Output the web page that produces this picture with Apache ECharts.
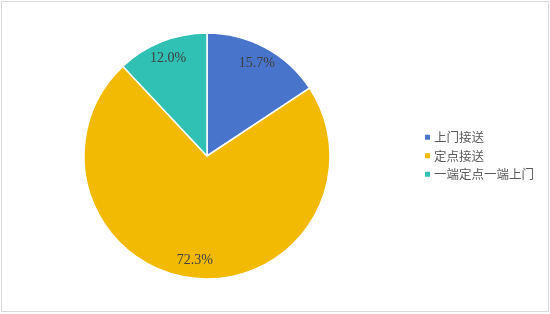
<!DOCTYPE html>
<html><head><meta charset="utf-8">
<script src="https://cdn.jsdelivr.net/npm/echarts@6/dist/echarts.min.js"></script>
<style>html,body{margin:0;padding:0;background:#fff}#c{width:550px;height:314px}</style>
</head><body><div id="c"></div>
<script>
const categories = ['上门接送', '定点接送', '一端定点一端上门'];
const values = [15.7, 72.3, 12.0];
const colors = ['#4874CB', '#F2BA02', '#30C0B4'];

const data = categories.map((n, i) => ({ name: n, value: values[i], itemStyle: { color: colors[i] } }));
const chart = echarts.init(document.getElementById('c'));
chart.setOption({
  animation: false,
  graphic: [{ type: 'rect', shape: { x: 1.5, y: 1.5, width: 547, height: 310 }, style: { fill: 'none', stroke: '#d9d9d9', lineWidth: 1 }, silent: true }],
  legend: {
    orient: 'vertical', left: 418, top: 126,
    itemWidth: 7, itemHeight: 7, itemGap: 6, icon: 'rect',
    data: categories.map((n, i) => ({ name: n, itemStyle: { color: colors[i] } })),
    textStyle: { fontFamily: 'Noto Sans CJK SC', fontSize: 12.5, color: '#595959', padding: [0, 0, 0, -2] }
  },
  series: [
    {
      type: 'pie', center: [207, 156], radius: [0, 123], startAngle: 90, clockwise: true,
      itemStyle: { borderColor: '#fff', borderWidth: 1.5 },
      label: { show: false }, labelLine: { show: false }, emphasis: { disabled: true },
      data: data
    },
    {
      type: 'pie', center: [207, 156], radius: [82, 123], startAngle: 90, clockwise: true,
      silent: true, z: 3,
      itemStyle: { color: 'transparent', borderWidth: 0 },
      label: { show: true, position: 'inside', formatter: p => p.value.toFixed(1) + '%', fontFamily: '"Liberation Serif", "Times New Roman", serif', fontSize: 14, color: '#404040' },
      labelLine: { show: false }, emphasis: { disabled: true },
      data: categories.map((n, i) => ({ name: n, value: values[i], itemStyle: { color: 'transparent' } }))
    }
  ]
});
</script></body></html>
